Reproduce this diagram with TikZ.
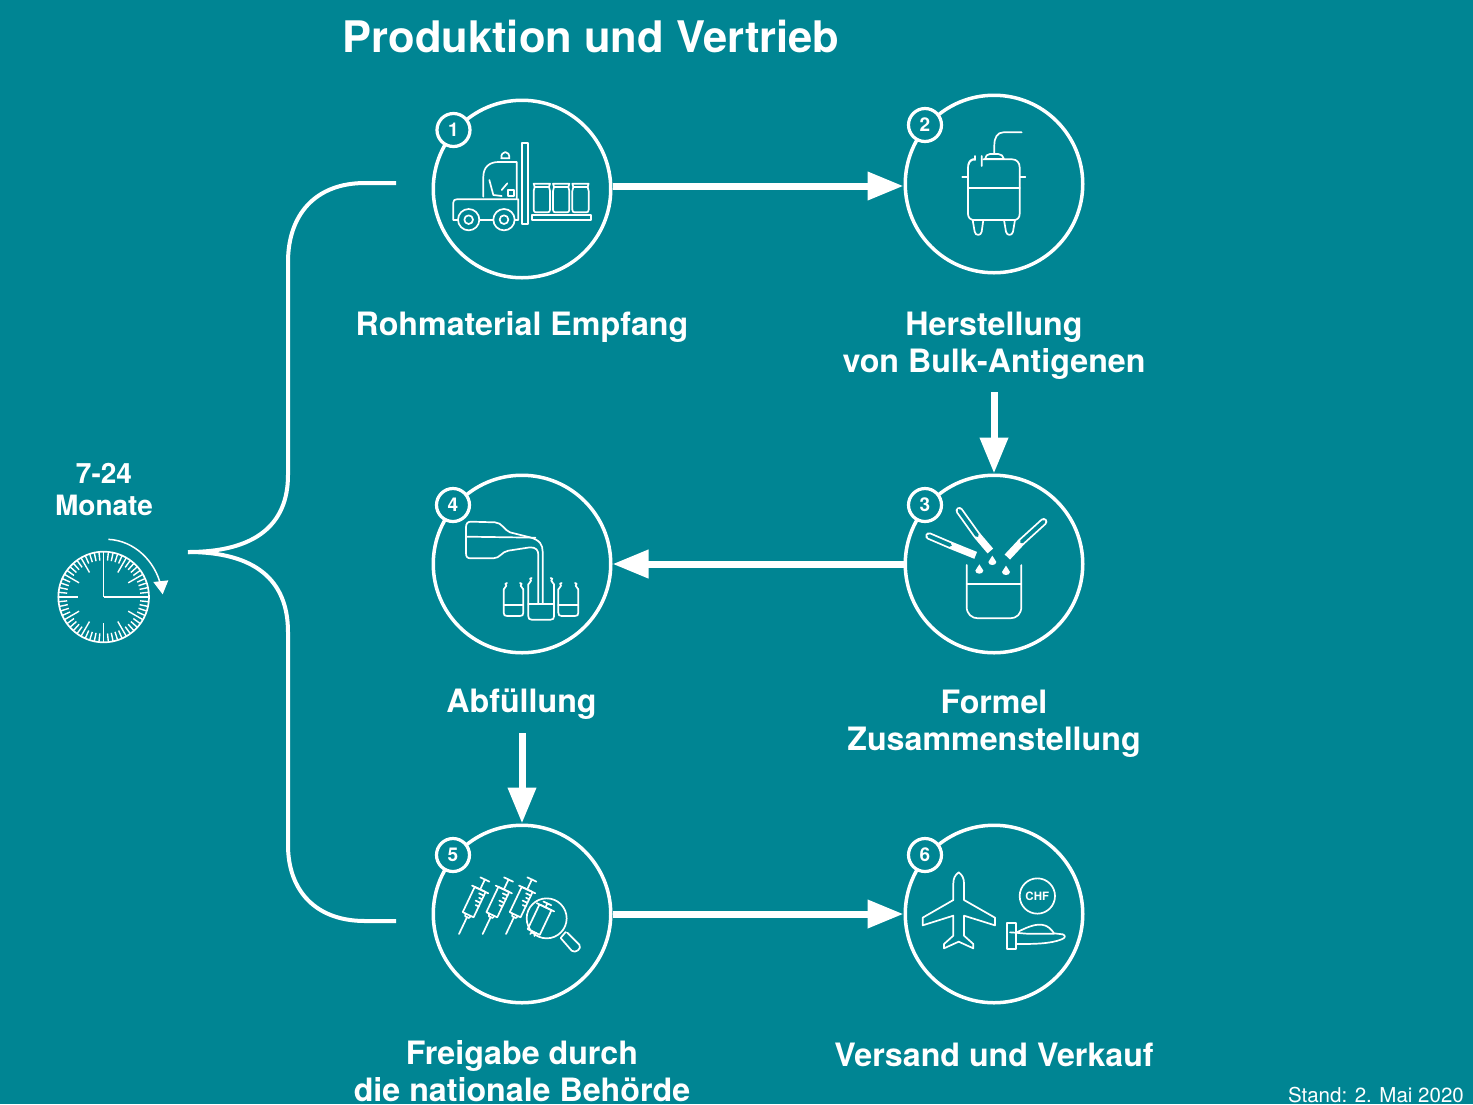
\documentclass[tikz,border=0pt]{standalone}
\usepackage{fontspec}
\setmainfont{TeX Gyre Heros}
\usetikzlibrary{arrows.meta,calc}
\definecolor{bgteal}{HTML}{008593}
\newcommand{\vacSyringe}[3]{%
\begin{scope}[shift={(#1,#2)},rotate=#3]
\draw[ic] (0,0)--(0,-56);
\draw[ic] (-9,-64)--(-6,-56)--(6,-56)--(9,-64);
\draw[ic] (-18,-64) rectangle (18,-148);
\draw[ic] (-27,-148)--(27,-148);
\draw[ic] (0,-148)--(0,-181);
\draw[ic] (-15,-181)--(15,-181);
\foreach \t/\l in {100/10,112/16,124/10,136/16}{\draw[ic] (18,-\t)--(18-\l,-\t);}
\end{scope}}
\newcommand{\vacVial}[5]{% x0 x1 ytop ybot ylevel
\draw[ic] (#1,#3+8) .. controls (#1,#3+3) and (#1+8,#3+3) .. (#1+8,#3-3)
 (#2,#3+8) .. controls (#2,#3+3) and (#2-8,#3+3) .. (#2-8,#3-3);
\draw[ic] (#1,#3+8) -- (#1,#4-10) .. controls (#1,#4-3) and (#1+3,#4) .. (#1+10,#4) -- (#2-10,#4) .. controls (#2-3,#4) and (#2,#4-3) .. (#2,#4-10) -- (#2,#3+8);
\draw[ic] (#1,#5)--(#2,#5);
\draw[ic] (#1+8,#3-3) .. controls (#1+2,#3-8) and (#1+6,#3-11) .. (#1+10,#3-11) (#2-8,#3-3) .. controls (#2-2,#3-8) and (#2-6,#3-11) .. (#2-10,#3-11);
}
\newcommand{\vacTube}[6]{% far, fillstart, mouth
\draw[white,line width=7.4pt,line cap=round] (#1,#2)--(#3,#4);
\draw[white,line width=7.4pt] (#3,#4)--(#5,#6);
\draw[bgteal,line width=3.8pt,line cap=round] (#1,#2)--(#3,#4);
}
\tikzset{
 ic/.style={draw=white,line width=1.7pt,line join=round,line cap=round},
 ring/.style={circle,draw=white,line width=3.5pt,minimum size=177.5pt,inner sep=0pt},
 badge/.style={circle,draw=white,fill=bgteal,line width=3.2pt,minimum size=33pt,inner sep=0pt,text=white,font=\fontsize{19}{19}\selectfont\bfseries},
 flow/.style={draw=white,line width=7pt,-{Triangle[length=36pt,width=27pt,fill=white]}},
 lab/.style={text=white,align=center,font=\fontsize{32.2}{37}\selectfont\bfseries,inner sep=0pt},
 zoomed/.style={x=0.33333pt,y=-0.33333pt}
}
\begin{document}
\begin{tikzpicture}[x=1pt,y=-1pt]
\useasboundingbox (0,0) rectangle (1473,1104);
\fill[bgteal] (0,0) rectangle (1473,1104);
% title and labels
\node[lab,font=\fontsize{43.5}{43.5}\selectfont\bfseries] (title) at (591,36.5) {Produktion und Vertrieb};
\node[lab] (l1) at (522,327) {Rohmaterial Empfang};
\node[lab] (l2) at (994,346) {Herstellung\\von Bulk-Antigenen};
\node[lab] (l3) at (994,724) {Formel\\Zusammenstellung};
\node[lab] (l4) at (521.5,704) {Abfüllung};
\node[lab] (l5) at (522,1071) {Freigabe durch\\die nationale Behörde};
\node[lab] (l6) at (994,1055) {Versand und Verkauf};
\node[lab,font=\fontsize{28}{32}\selectfont\bfseries] (l7) at (104,489) {7-24\\Monate};
\node[text=white,anchor=base east,inner sep=0pt,font=\fontsize{20.5}{20.5}\selectfont] (stand) at (1464,1102.5) {Stand: 2. Mai 2020};
% circles
\node[ring] (c1) at (522,189) {};
\node[ring] (c2) at (994,184) {};
\node[ring] (c3) at (994,564) {};
\node[ring] (c4) at (522,564) {};
\node[ring] (c5) at (522,914) {};
\node[ring] (c6) at (994,914) {};
\node[badge] (b1) at (453.5,130) {1};
\node[badge] (b2) at (925,125) {2};
\node[badge] (b3) at (925,505) {3};
\node[badge] (b4) at (453,505) {4};
\node[badge] (b5) at (453,855) {5};
\node[badge] (b6) at (925,855) {6};
% connectors
\coordinate (a2) at (994,392);
\coordinate (a4) at (522,733);
\coordinate (t12) at ($(c2.west)+(0,2)$);
\draw[flow] (c1.east |- t12) -- (t12);
\draw[flow] (a2) -- (c3.north);
\draw[flow] (c3.west) -- (c4.east);
\draw[flow] (a4) -- (c5.north);
\draw[flow] (c5.east) -- (c6.west);
% bracket
\coordinate (brtop) at (396,183);
\coordinate (brbot) at (396,921);
\coordinate (brtip) at (188,552);
\draw[white,line width=4pt] (brtop) -- (365,183) .. controls (315,183) and (288,215) .. (288,262) -- (288,475) .. controls (288,525) and (255,552) .. (brtip);
\draw[white,line width=4pt] (brtip) .. controls (255,552) and (288,580) .. (288,632) -- (288,845) .. controls (288,890) and (315,921) .. (365,921) -- (brbot);
% clock
\begin{scope}[shift={(40,450)},zoomed]
\draw[white,line width=1.7pt] (191,441) circle (136);
\draw[white,line width=1.5pt] (191,441)--(191,305) (191,441)--(327,441) (191,577)--(191,518) (55,441)--(113,441);
\foreach \a in {6,12,...,354}{
 \pgfmathsetmacro{\ri}{mod(\a,30)==0 ? 85 : 110}
 \pgfmathparse{mod(\a,90)==0 ? 0 : 1}
 \ifnum\pgfmathresult=1
 \draw[white,line width=1.4pt] ($(191,441)+(\a:\ri)$)--($(191,441)+(\a:136)$);
 \fi
}
\draw[white,line width=1.5pt] (205,268) .. controls (285,272) and (345,335) .. (362,405);
\fill[white] (340,396)--(385,391)--(368,433)--cycle;
\end{scope}
% icon 1
\begin{scope}[shift={(430,95)},zoomed]
\draw[ic] (275,143) rectangle (295,387);
\draw[ic] (214,190) .. controls (212,165) and (240,165) .. (238,190) -- cycle;
\draw[ic] (160,305) -- (160,245) .. controls (160,215) and (180,201) .. (205,201) -- (260,201) -- (260,310);
\draw[ic] (178,255) -- (190,300) -- (215,303) (215,285) -- (232,265);
\draw[ic] (234,285) rectangle (252,303);
\draw[ic] (85,375) -- (70,375) -- (70,322) .. controls (70,316) and (74,313) .. (80,313) -- (265,313) -- (265,375) -- (255,375) (148,375) -- (190,375);
\draw[ic] (116,374) circle (32) (116,374) circle (13);
\draw[ic] (222,374) circle (32) (222,374) circle (13);
\draw[ic] (305,360) rectangle (482,375);
\foreach \x in {311,369,427}{
 \draw[ic] (\x,266) -- (\x+49,266) -- (\x+46,276) -- (\x+3,276) -- cycle;
 \draw[ic] (\x+3,276) -- (\x,288) -- (\x,344) .. controls (\x,350) and (\x+3,352) .. (\x+7,352) -- (\x+42,352) .. controls (\x+46,352) and (\x+49,350) .. (\x+49,344) -- (\x+49,288) -- (\x+46,276);
}
\end{scope}
% icon 2
\begin{scope}[shift={(900,90)},zoomed]
\draw[ic] (365,127) -- (310,127) .. controls (292,127) and (283,143) .. (283,165) -- (283,190);
\draw[ic] (255,207) .. controls (256,198) and (262,192) .. (270,192) -- (295,192) .. controls (303,192) and (310,198) .. (312,207) -- cycle;
\draw[ic] (225,208) .. controls (212,208) and (204,218) .. (204,232) -- (204,372) .. controls (204,383) and (212,390) .. (222,390) -- (342,390) .. controls (352,390) and (359,383) .. (359,372) -- (359,232) .. controls (359,218) and (350,208) .. (337,208) -- (250,208);
\draw[ic] (204,295) -- (359,295) (187,262) -- (204,262) (359,262) -- (376,262);
\draw[ic] (245,198) -- (245,228) (205,225) .. controls (207,212) and (215,207) .. (225,207) (225,198) -- (225,210);
\draw[ic] (218,390) -- (224,425) .. controls (226,438) and (243,438) .. (245,425) -- (250,390);
\draw[ic] (312,390) -- (318,425) .. controls (320,438) and (337,438) .. (339,425) -- (345,390);
\end{scope}
% icon 3
\begin{scope}[shift={(900,470)},zoomed]
\draw[ic] (200,285) -- (200,410) .. controls (200,432) and (215,445) .. (235,445) -- (330,445) .. controls (350,445) and (364,432) .. (364,410) -- (364,285);
\draw[ic] (200,343) -- (364,343);
\vacTube{87}{198}{150}{225}{227}{256}
\vacTube{178}{122}{231}{196}{271}{243}
\vacTube{431}{155}{365}{215}{322}{261}
\foreach \x/\y in {277/272,238/298,318/302}{
 \fill[white] (\x,\y-15) .. controls (\x+3,\y-6) and (\x+12,\y-1) .. (\x+12,\y+4) .. controls (\x+12,\y+16) and (\x-12,\y+16) .. (\x-12,\y+4) .. controls (\x-12,\y-1) and (\x-3,\y-6) .. cycle;
}
\end{scope}
% icon 4
\begin{scope}[shift={(430,470)},zoomed]
\draw[ic] (338,402) -- (338,245) .. controls (338,225) and (330,210) .. (300,202) -- (240,187) .. controls (225,182) and (215,157) .. (195,157) -- (122,155) .. controls (112,155) and (108,162) .. (108,172) -- (108,250) .. controls (108,260) and (112,265) .. (122,265) -- (190,265) .. controls (210,265) and (215,245) .. (235,242) -- (300,232) .. controls (318,232) and (325,240) .. (325,255) -- (325,402);
\draw[ic] (108,200) -- (316,203);
\vacVial{221}{280}{350}{438}{404}
\vacVial{295}{372}{335}{449}{402}
\vacVial{385}{445}{350}{438}{404}
\end{scope}
% icon 5
\begin{scope}[shift={(430,820)},zoomed]
\vacSyringe{87}{342}{-25.4}
\vacSyringe{158}{342}{-25.4}
\vacSyringe{228}{342}{-25.4}
\draw[ic,fill=bgteal] (350,295) circle (60);
\begin{scope}[shift={(307,345)},rotate=-25.4]
\draw[ic] (-7,0)--(-5,-7)--(5,-7)--(7,0);
\draw[ic] (-20,-10) rectangle (20,-92);
\draw[ic] (-29,-92)--(29,-92);
\draw[ic] (-8,-10)--(8,-10);
\draw[ic] (0,-92)--(0,-105);
\draw[ic] (-13,-105)--(13,-105);
\end{scope}
\draw[ic] (407,336) -- (392,354) -- (425,392) .. controls (436,402) and (457,385) .. (448,374) -- (412,338);
\end{scope}
% icon 6
\begin{scope}[shift={(900,820)},zoomed]
\draw[ic] (176,157) .. controls (165,165) and (160,175) .. (160,190) -- (160,240) -- (68,293) -- (68,316) -- (160,287) -- (160,347) -- (132,372) -- (132,385) -- (176,365) -- (220,385) -- (220,372) -- (192,347) -- (192,287) -- (285,316) -- (285,293) -- (192,240) -- (192,190) .. controls (192,175) and (187,165) .. (176,157) -- cycle;
\draw[ic] (412,228) circle (53);
\node[text=white,inner sep=0pt,font=\fontsize{11.5}{11.5}\selectfont\bfseries] (chf) at (412,228) {CHF};
\draw[ic] (320,308) rectangle (348,387);
\draw[ic] (348,338) .. controls (375,325) and (400,312) .. (425,314) .. controls (445,316) and (455,330) .. (462,340) -- (488,343) .. controls (498,346) and (496,354) .. (485,358) .. controls (450,372) and (400,372) .. (348,372);
\draw[ic] (330,337) .. controls (350,338) and (365,340) .. (380,341) -- (462,341);
\end{scope}
\end{tikzpicture}
\end{document}
